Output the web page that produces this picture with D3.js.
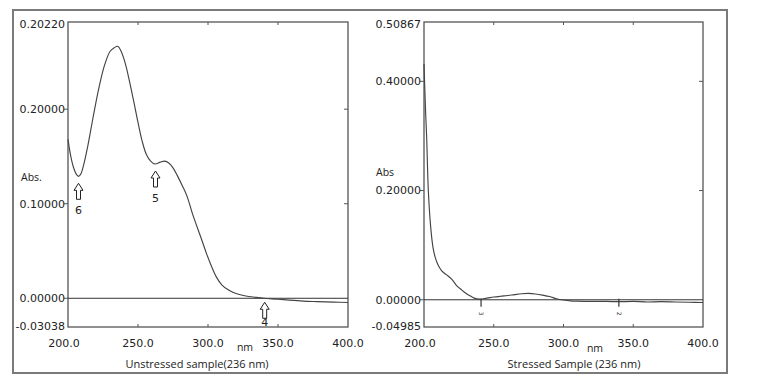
<!DOCTYPE html>
<html><head><meta charset="utf-8">
<script src="https://cdn.jsdelivr.net/npm/d3@7"></script>
<style>body{margin:0;background:#fff}svg{display:block}</style>
</head><body>
<svg id="c" width="759" height="386"></svg>
<script>
// ---- data ----
const unstressedNm  = [200,202,204,206,207.5,209,211,214,218,222,226,230,233,235.5,238,241,244,247,250,253,256,259,262,266,269,272,275,278,282,285,289,295,299,303,306,310,315,320,327,334,340,350,358,368,378,390,400];
const unstressedAbs = [0.168,0.150,0.138,0.131,0.129,0.131,0.140,0.160,0.192,0.222,0.246,0.261,0.265,0.2665,0.261,0.248,0.229,0.208,0.186,0.166,0.152,0.145,0.142,0.144,0.145,0.143,0.138,0.130,0.118,0.108,0.089,0.064,0.047,0.032,0.0224,0.014,0.0084,0.005,0.0024,0.001,0.0,-0.001,-0.002,-0.003,-0.0035,-0.004,-0.0045];
const stressedNm  = [200,200.4,201.2,201.9,203.1,204.8,206.5,208,210,212.7,216,219.8,223.4,227,230,233,236,240,245,250,255,260,265,270,275,280,285,290,295,300,305,310,320,331,340,350,360,370,380,390,400];
const stressedAbs = [0.432,0.40,0.34,0.298,0.200,0.133,0.095,0.078,0.064,0.053,0.046,0.038,0.026,0.018,0.012,0.0073,0.003,0.0013,0.003,0.005,0.0065,0.0078,0.0095,0.011,0.0116,0.0105,0.0085,0.006,0.002,-0.0005,-0.002,-0.0025,-0.003,-0.003,-0.0035,-0.003,-0.004,-0.0035,-0.004,-0.0045,-0.005];
const xTickValues = [200,250,300,350,400];
const xTickLabels = ["200.0","250.0","300.0","350.0","400.0"];
const yTickValuesL = [-0.03038,0,0.1,0.2,0.2922];
const yTickLabelsL = ["-0.03038","0.00000","0.10000","0.20000","0.20220"];
const yTickValuesR = [-0.04985,0,0.2,0.4,0.50867];
const yTickLabelsR = ["-0.04985","0.00000","0.20000","0.40000","0.50867"];
const arrowNmL  = [207.5,262.5,340.5];
const arrowAbsL = [0.129,0.142,0.0];
const arrowLabL = ["6","5","4"];
const peakNmR  = [240.9,339.7];
const peakLabR = ["3","2"];

// ---- drawing ----
const svg = d3.select("#c");
svg.append("rect").attr("x",13).attr("y",10).attr("width",714).attr("height",363)
  .attr("fill","#fff").attr("stroke","#7a7a7a").attr("stroke-width",2);

function panel(o){
  const g = svg.append("g");
  const x = d3.scaleLinear().domain([200,400]).range([o.x0,o.x1]);
  const y = d3.scaleLinear().domain([o.yv[0],o.yv[o.yv.length-1]]).range([o.y1,o.y0]);
  g.append("rect").attr("x",o.x0).attr("y",o.y0).attr("width",o.x1-o.x0).attr("height",o.y1-o.y0)
    .attr("fill","none").attr("stroke","#555").attr("stroke-width",1.3);
  const mid = xTickValues.slice(1,-1);
  mid.forEach(v=>{
    g.append("line").attr("x1",x(v)).attr("x2",x(v)).attr("y1",o.y1).attr("y2",o.y1-3).attr("stroke","#555");
    g.append("line").attr("x1",x(v)).attr("x2",x(v)).attr("y1",o.y0).attr("y2",o.y0+3).attr("stroke","#555");
  });
  xTickValues.forEach((v,i)=>{
    g.append("text").attr("x",x(v)-(i==0?4:0)).attr("y",347).attr("text-anchor","middle")
      .attr("font-family","DejaVu Sans, Verdana, sans-serif").attr("font-size",11).attr("fill","#222").text(xTickLabels[i]);
  });
  o.yv.forEach((v,i)=>{
    if(i>0 && i<o.yv.length-1){
      g.append("line").attr("x1",o.x0).attr("x2",o.x0-4).attr("y1",y(v)).attr("y2",y(v)).attr("stroke","#555");
      if(v!==0) g.append("line").attr("x1",o.x1).attr("x2",o.x1-4).attr("y1",y(v)).attr("y2",y(v)).attr("stroke","#555");
    }
    g.append("text").attr("x",o.x0-3).attr("y",y(v)+(i==0?-1:(i==o.yv.length-1?2:0))).attr("dy","0.35em").attr("text-anchor","end")
      .attr("font-family","DejaVu Sans, Verdana, sans-serif").attr("font-size",11).attr("fill","#222").text(o.yl[i]);
  });
  g.append("line").attr("x1",o.x0).attr("x2",o.x1).attr("y1",y(0)).attr("y2",y(0)).attr("stroke","#333").attr("stroke-width",1);
  const line = d3.line().x((d,i)=>x(o.nm[i])).y((d,i)=>y(o.abs[i])).curve(d3.curveCatmullRom.alpha(0.5));
  g.append("path").datum(o.abs).attr("d",line).attr("fill","none").attr("stroke","#444").attr("stroke-width",1.15);
  g.append("text").attr("x",o.absX).attr("y",o.absY).attr("font-family","Open Sans, sans-serif").attr("font-size",10.5).attr("fill","#222").text(o.absLab);
  g.append("text").attr("x",o.nmX).attr("y",o.nmY).attr("text-anchor","middle").attr("font-family","Open Sans, sans-serif").attr("font-size",10.5).attr("fill","#222").text("nm");
  g.append("text").attr("x",o.titleX).attr("y",368).attr("text-anchor","middle").attr("font-family","Open Sans, sans-serif").attr("font-size",11).attr("fill","#222").text(o.title);
  return {g,x,y};
}

const L = panel({x0:68,x1:348,y0:22,y1:327,yv:yTickValuesL,yl:yTickLabelsL,nm:unstressedNm,abs:unstressedAbs,
  absX:21,absY:181,absLab:"Abs.",nmX:245,nmY:351,titleX:197,title:"Unstressed sample(236 nm)"});
const R = panel({x0:424,x1:703,y0:22,y1:327,yv:yTickValuesR,yl:yTickLabelsR,nm:stressedNm,abs:stressedAbs,
  absX:376,absY:176,absLab:"Abs",nmX:595,nmY:352,titleX:574,title:"Stressed Sample (236 nm)"});

arrowNmL.forEach((nm,i)=>{
  const cx = L.x(nm), ty = L.y(arrowAbsL[i]) + (i==2?4:7);
  const p = [[cx,ty],[cx+4.5,ty+7],[cx+2,ty+7],[cx+2,ty+16],[cx-2,ty+16],[cx-2,ty+7],[cx-4.5,ty+7]];
  L.g.append("path").attr("d","M"+p.join("L")+"Z").attr("fill","#fff").attr("stroke","#222").attr("stroke-width",1);
  L.g.append("text").attr("x",cx).attr("y",ty+(i==2?24:31)).attr("text-anchor","middle")
    .attr("font-family","DejaVu Sans, sans-serif").attr("font-size",11).attr("fill","#222").text(arrowLabL[i]);
});
peakNmR.forEach((nm,i)=>{
  const cx = R.x(nm), y0 = R.y(0);
  R.g.append("line").attr("x1",cx).attr("x2",cx).attr("y1",y0-1).attr("y2",y0+7).attr("stroke","#333").attr("stroke-width",1.2);
  R.g.append("text").attr("transform",`translate(${cx-2},${y0+12}) rotate(90)`).attr("font-family","DejaVu Sans, sans-serif")
    .attr("font-size",6).attr("fill","#333").text(peakLabR[i]);
});
</script>
</body></html>
